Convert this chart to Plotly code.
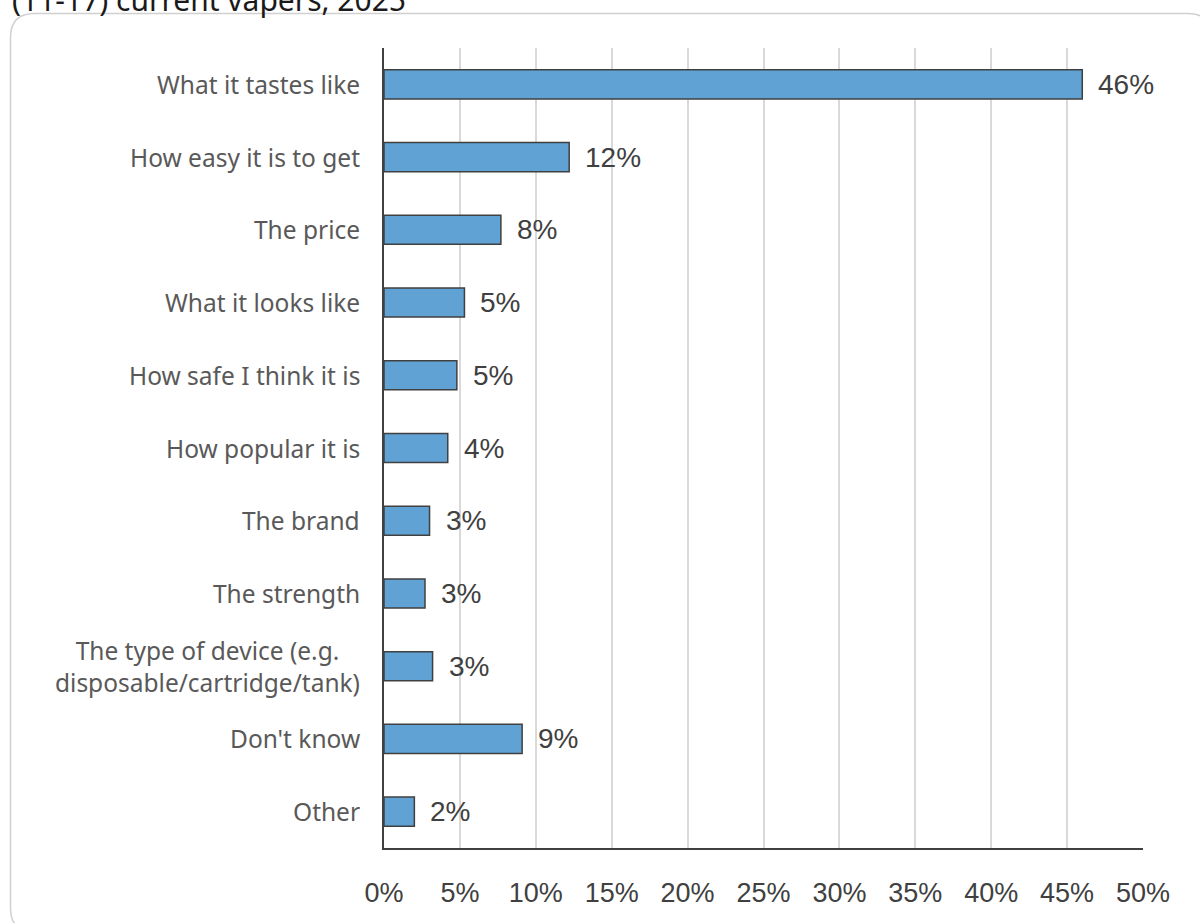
import plotly.graph_objects as go

# Reasons given for choosing a vape, share of respondents (%)
categories = [
    "What it tastes like",
    "How easy it is to get",
    "The price",
    "What it looks like",
    "How safe I think it is",
    "How popular it is",
    "The brand",
    "The strength",
    "The type of device (e.g.<br>disposable/cartridge/tank)",
    "Don't know",
    "Other",
]
values = [46.0, 12.2, 7.7, 5.3, 4.8, 4.2, 3.0, 2.7, 3.2, 9.1, 2.0]
value_labels = ["46%", "12%", "8%", "5%", "5%", "4%", "3%", "3%", "3%", "9%", "2%"]
x_ticks = [0, 5, 10, 15, 20, 25, 30, 35, 40, 45, 50]
x_tick_labels = [f"{t}%" for t in x_ticks]
title_text = "(11-17) current vapers, 2025"

W, H = 1200, 923
ML, MR, MT, MB = 384, 57, 48, 75
PW, PH = W - ML - MR, H - MT - MB


def px(x):
    return (x - ML) / PW


def py(y):
    return (H - MB - y) / PH


fig = go.Figure(
    go.Bar(
        x=values,
        y=categories,
        orientation="h",
        width=0.4,
        marker=dict(color="#5fa2d3", line=dict(color="#404040", width=1.5)),
        hoverinfo="skip",
    )
)

annotations = []
# value labels at the end of each bar
for cat, v, lab in zip(categories, values, value_labels):
    annotations.append(dict(
        x=v, y=cat, xref="x", yref="y", text=lab, showarrow=False,
        xanchor="left", yanchor="middle", xshift=14,
        font=dict(family="Liberation Sans, Arial", size=28, color="#404040"),
    ))
# category labels, centred on each line and right-aligned to the axis
for cat in categories:
    annotations.append(dict(
        x=0, y=cat, xref="paper", yref="y", text=cat, showarrow=False,
        xanchor="right", yanchor="middle", align="center", xshift=-22,
        font=dict(family="Noto Sans", size=24.5, color="#595959"),
    ))
# heading text above the frame
annotations.append(dict(
    x=px(10), y=py(22), xref="paper", yref="paper", text=title_text,
    showarrow=False, xanchor="left", yanchor="bottom",
    font=dict(family="Noto Sans", size=30, color="#1a1a1a"),
))

# rounded frame around the chart
x0, y0, x1, y1, r = 10.5, 13.5, 1212, 932, 24
path = (
    f"M {px(x0 + r)},{py(y0)} L {px(x1 - r)},{py(y0)} "
    f"Q {px(x1)},{py(y0)} {px(x1)},{py(y0 + r)} "
    f"L {px(x1)},{py(y1 - r)} Q {px(x1)},{py(y1)} {px(x1 - r)},{py(y1)} "
    f"L {px(x0 + r)},{py(y1)} Q {px(x0)},{py(y1)} {px(x0)},{py(y1 - r)} "
    f"L {px(x0)},{py(y0 + r)} Q {px(x0)},{py(y0)} {px(x0 + r)},{py(y0)} Z"
)

fig.update_layout(
    width=W,
    height=H,
    margin=dict(l=ML, r=MR, t=MT, b=MB, pad=0),
    paper_bgcolor="white",
    plot_bgcolor="white",
    showlegend=False,
    annotations=annotations,
    shapes=[dict(type="path", path=path, xref="paper", yref="paper",
                 line=dict(color="#d0d0d0", width=1.5), layer="below")],
    xaxis=dict(
        range=[0, 50],
        tickvals=x_ticks,
        ticktext=x_tick_labels,
        showgrid=True,
        gridcolor="#d9d9d9",
        gridwidth=1.5,
        zeroline=False,
        showline=True,
        linecolor="#404040",
        linewidth=1.5,
        ticks="",
        ticklabelstandoff=20,
        tickfont=dict(family="Liberation Sans, Arial", size=27, color="#404040"),
        fixedrange=True,
    ),
    yaxis=dict(
        categoryorder="array",
        categoryarray=categories,
        autorange="reversed",
        showticklabels=False,
        showgrid=False,
        zeroline=False,
        showline=True,
        linecolor="#404040",
        linewidth=1.5,
        ticks="",
        fixedrange=True,
    ),
)

fig.write_html("out.html")
